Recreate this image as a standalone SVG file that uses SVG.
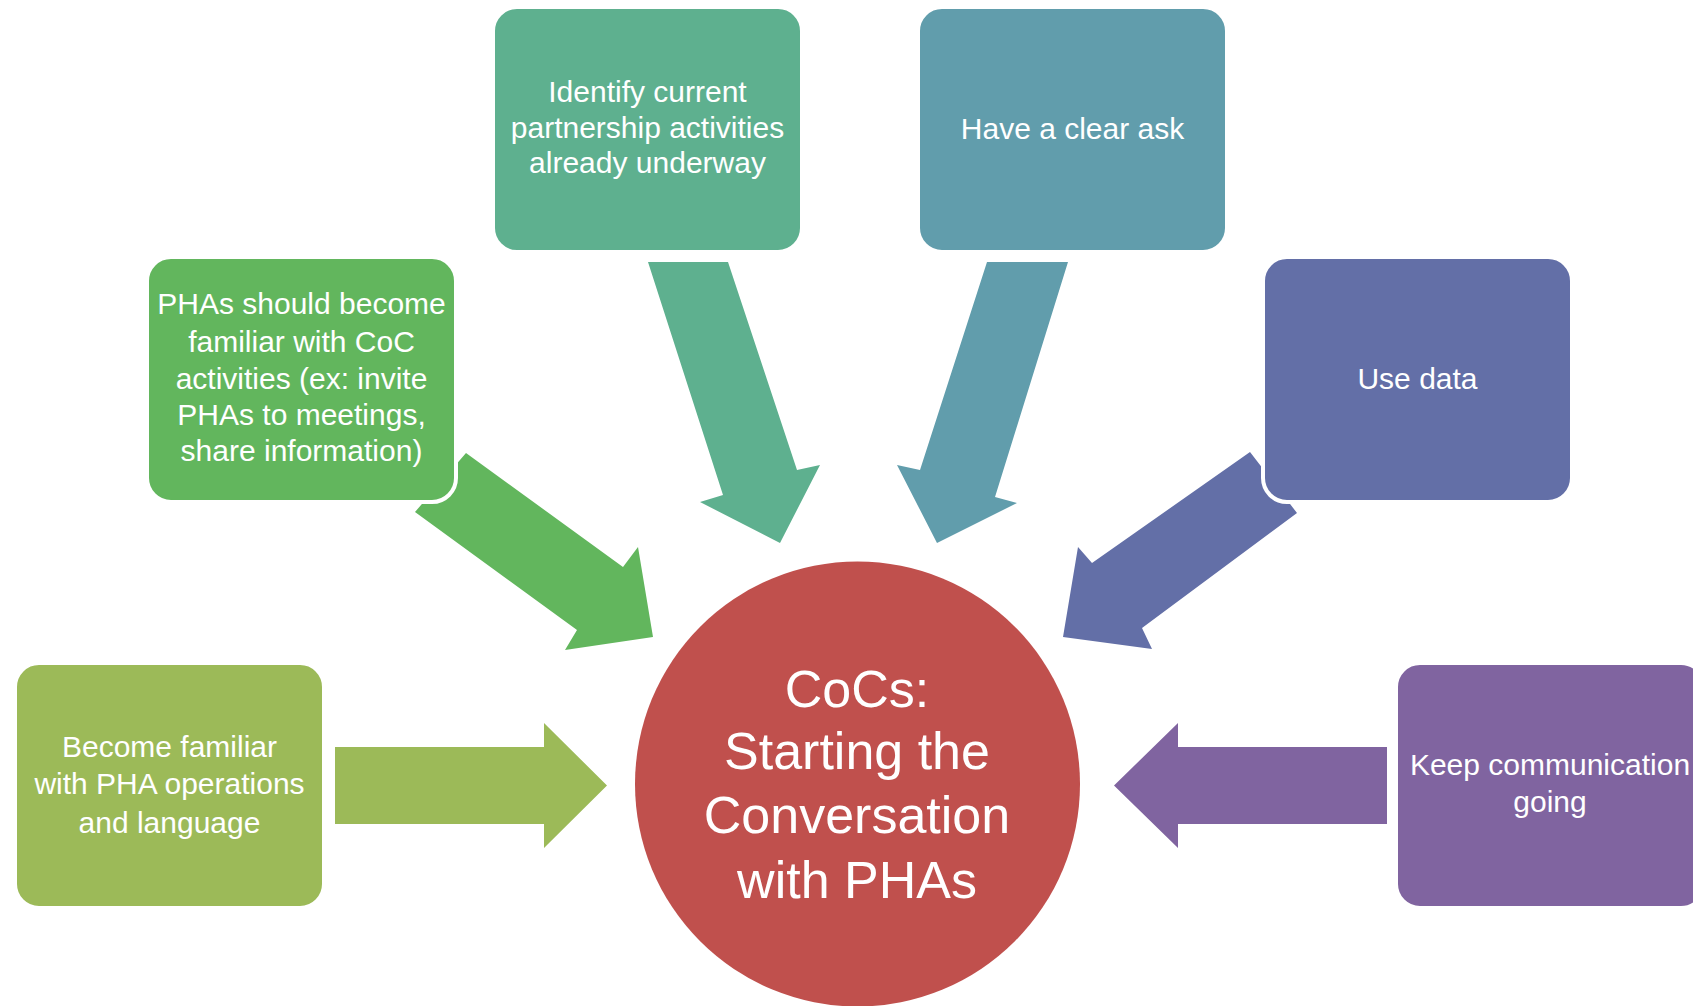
<svg xmlns="http://www.w3.org/2000/svg" width="1693" height="1006" viewBox="0 0 1693 1006">
<style>
.box{stroke:#ffffff;stroke-width:4}
.t{font-family:"Liberation Sans",Arial,sans-serif;font-size:30px;fill:#ffffff;text-anchor:middle}
.c{font-family:"Liberation Sans",Arial,sans-serif;font-size:52px;fill:#ffffff;text-anchor:middle}
</style>
<rect width="1693" height="1006" fill="#ffffff"/>
<g id="connectors">
  <polygon id="a-familiar" fill="#9CBA58" points="335,747 544,747 544,723 607,785.5 544,848 544,824 335,824"/>
  <polygon id="a-phas" fill="#62B65D" points="466,453 623,567 638,547 653,637 565,650 577,630 415,512"/>
  <polygon id="a-identify" fill="#5EB08F" points="648,262 728,262 797,470 820,465 780,543 700,502 723,495"/>
  <polygon id="a-ask" fill="#619DAC" points="987,262 1068,262 995,497 1017,503 937,543 897,465 920,470"/>
  <polygon id="a-data" fill="#636FA7" points="1250,452 1297,513 1142,628 1152,649 1063,637 1078,547 1092,563"/>
  <polygon id="a-keep" fill="#8064A0" points="1387,747 1178,747 1178,723 1114,785.5 1178,848 1178,824 1387,824"/>
</g>
<g id="node-identify">
  <rect class="box" x="493" y="7" width="309" height="245" rx="24" fill="#5EB08F"/>
  <text class="t" x="647.5" y="102">Identify current</text>
  <text class="t" x="647.5" y="137.5">partnership activities</text>
  <text class="t" x="647.5" y="173">already underway</text>
</g>
<g id="node-ask">
  <rect class="box" x="918" y="7" width="309" height="245" rx="24" fill="#619DAC"/>
  <text class="t" x="1072.5" y="138.5">Have a clear ask</text>
</g>
<g id="node-phas">
  <rect class="box" x="147" y="257" width="309" height="245" rx="24" fill="#62B65D"/>
  <text class="t" x="301.5" y="314">PHAs should become</text>
  <text class="t" x="301.5" y="352">familiar with CoC</text>
  <text class="t" x="301.5" y="389">activities (ex: invite</text>
  <text class="t" x="301.5" y="425">PHAs to meetings,</text>
  <text class="t" x="301.5" y="461">share information)</text>
</g>
<g id="node-data">
  <rect class="box" x="1263" y="257" width="309" height="245" rx="24" fill="#636FA7"/>
  <text class="t" x="1417.5" y="389">Use data</text>
</g>
<g id="node-familiar">
  <rect class="box" x="15" y="663" width="309" height="245" rx="24" fill="#9CBA58"/>
  <text class="t" x="169.5" y="757">Become familiar</text>
  <text class="t" x="169.5" y="794">with PHA operations</text>
  <text class="t" x="169.5" y="833">and language</text>
</g>
<g id="node-keep">
  <rect class="box" x="1396" y="663" width="309" height="245" rx="24" fill="#8064A0"/>
  <text class="t" x="1550" y="775">Keep communication</text>
  <text class="t" x="1550" y="812">going</text>
</g>
<g id="node-center">
  <circle cx="857.5" cy="784" r="222.5" fill="#C0504D"/>
  <text class="c" x="857" y="707">CoCs:</text>
  <text class="c" x="857" y="769">Starting the</text>
  <text class="c" x="857" y="833">Conversation</text>
  <text class="c" x="857" y="898">with PHAs</text>
</g>
</svg>
